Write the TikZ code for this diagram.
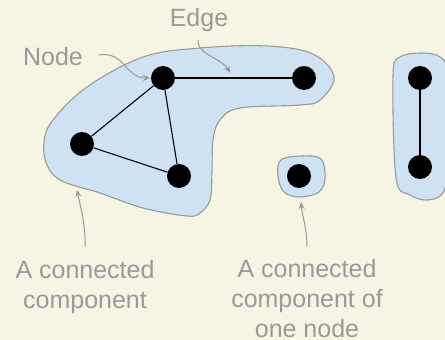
\documentclass[tikz,border=0pt]{standalone}
\usepackage{fontspec}
\setmainfont{Liberation Sans}
\usetikzlibrary{arrows.meta}
\definecolor{bg}{HTML}{F6F5E3}
\definecolor{blob}{HTML}{CFE2F3}
\definecolor{lbl}{HTML}{999999}
\begin{document}
\begin{tikzpicture}[x=1pt,y=-1pt,
  vert/.style={circle,fill=black,minimum size=24pt,inner sep=0pt},
  edgeline/.style={black,line width=1.1pt},
  comp/.style={fill=blob,draw=lbl,line width=1.1pt},
  lbltext/.style={text=lbl,font=\fontsize{25}{30}\selectfont,align=center,inner sep=0pt},
  callout/.style={draw=lbl,line width=1pt,-{Stealth[length=7pt,width=6pt]}}]
\fill[bg] (0,0) rectangle (445,340);
\useasboundingbox (0,0) rectangle (445,340);
% components
\draw[comp] plot[smooth cycle,tension=0.6] coordinates {(44,142) (53,120) (87,87) (143,57) (200,48) (267,46) (313,54) (334,77) (320,100) (300,105) (240,108) (220,120) (213,140) (212,173) (210,200) (200,213) (187,216) (143,208) (100,193) (62,181) (47,165)};
\draw[comp] plot[smooth cycle,tension=0.6] coordinates {(281,160) (302,156) (321,159) (325,178) (319,192) (300,197) (284,192) (278,176)};
\draw[comp] plot[smooth cycle,tension=0.55] coordinates {(393,75) (400,57) (422,53) (440,57) (447,75) (447,170) (442,194) (427,200) (410,195) (396,178)};
% vertices
\node[vert] (a) at (163,78) {};
\node[vert] (b) at (304,78) {};
\node[vert] (c) at (82,144) {};
\node[vert] (d) at (179,176) {};
\node[vert] (e) at (299,176) {};
\node[vert] (f) at (420,78) {};
\node[vert] (g) at (420,167) {};
\draw[edgeline] (a) -- (b);
\draw[edgeline] (a) -- (c);
\draw[edgeline] (a) -- (d);
\draw[edgeline] (c) -- (d);
\draw[edgeline] (f) -- (g);
% labels
\node[lbltext,anchor=base] (nodelbl) at (53,65) {Node};
\node[lbltext,anchor=base] (edgelbl) at (199,27) {Edge};
\node[lbltext,anchor=north] (cclbl) at (85,260) {A connected\\component};
\node[lbltext,anchor=north] (onelbl) at (307,259) {A connected\\component of\\one node};
% callouts
\coordinate (nodestart) at (99,55);
\coordinate (nodetip) at (150,78);
\coordinate (edgestart) at (198,40);
\coordinate (edgetip) at (230,73);
\coordinate (ccstart) at (85,247);
\coordinate (cctip) at (77,190);
\coordinate (onestart) at (307,247);
\coordinate (onetip) at (301,202);
\draw[callout] (nodestart) .. controls (125,51) and (125,78) .. (nodetip);
\draw[callout] (edgestart) .. controls (197,55) and (222,58) .. (edgetip);
\draw[callout] (ccstart) .. controls (86,225) and (80,205) .. (cctip);
\draw[callout] (onestart) .. controls (307,228) and (302,215) .. (onetip);
\end{tikzpicture}
\end{document}
